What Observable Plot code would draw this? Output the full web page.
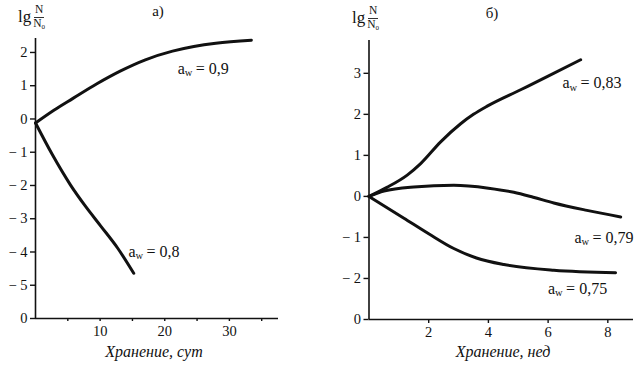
<!DOCTYPE html>
<html><head><meta charset="utf-8">
<script src="https://cdn.jsdelivr.net/npm/d3@7"></script>
<script src="https://cdn.jsdelivr.net/npm/@observablehq/plot@0.6"></script>
<style>
body{margin:0;background:#fff;}
#wrap{position:relative;width:643px;height:369px;overflow:hidden;font-family:"Liberation Serif","Times New Roman",Times,"DejaVu Serif",serif;color:#111;}
#wrap svg, #wrap svg text{font-family:"Liberation Serif","Times New Roman",Times,"DejaVu Serif",serif !important;}
.panel{position:absolute;top:0;}
.ylab{position:absolute;display:flex;align-items:center;font-size:17px;}
.frac{display:inline-flex;flex-direction:column;align-items:center;font-size:11.5px;line-height:1;margin-left:2px;}
.frac .num{border-bottom:0.8px solid #333;padding:0 1px 1px;}
.frac sub{font-size:7px;vertical-align:baseline;position:relative;top:2px;}
.xt{position:absolute;font-style:italic;font-size:16px;transform:translateX(-50%);white-space:nowrap;}
.pt{position:absolute;font-size:15px;transform:translateX(-50%);}
</style></head><body>
<div id="wrap"></div>
<script>
// ---- Panel а): storage in days ----
const daysA09 = [0, 2.9, 5.8, 9.5, 13.1, 17, 21.2, 24.5, 27.9, 33.4];
const lgA09   = [-0.12, 0.27, 0.62, 1.06, 1.44, 1.78, 2.04, 2.18, 2.28, 2.37];
const daysA08 = [0, 2.6, 5.4, 7.75, 10.1, 12.7, 15.2];
const lgA08   = [-0.12, -1.07, -1.98, -2.63, -3.22, -3.88, -4.64];
const ticksYA = [-6, -5, -4, -3, -2, -1, 0, 1, 2];
const ticksXA = [5, 10, 15, 20, 25, 30, 35];
const labelsA = [{x: 22, y: 1.52, v: "0,9"}, {x: 14.4, y: -4.0, v: "0,8"}];

// ---- Panel б): storage in weeks ----
const weeksB083 = [0, 0.6, 1.28, 1.73, 2.4, 3.07, 3.5, 3.96, 5.08, 6.0, 7.09];
const lgB083    = [0, 0.22, 0.52, 0.8, 1.33, 1.77, 2.0, 2.2, 2.6, 2.93, 3.33];
const weeksB079 = [0, 0.5, 1.5, 2.84, 4.0, 4.85, 5.5, 6.19, 7.3, 8.43];
const lgB079    = [0, 0.13, 0.23, 0.27, 0.2, 0.1, -0.02, -0.16, -0.34, -0.5];
const weeksB075 = [0, 1.17, 2.0, 2.84, 3.6, 4.52, 6.19, 8.26];
const lgB075    = [0, -0.53, -0.91, -1.27, -1.5, -1.66, -1.8, -1.86];
const ticksYB = [-3, -2, -1, 0, 1, 2, 3];
const ticksXB = [2, 4, 6, 8];
const labelsB = [{x: 6.48, y: 2.76, v: "0,83"}, {x: 6.88, y: -1.0, v: "0,79"}, {x: 6.0, y: -2.25, v: "0,75"}];

const zip = (xs, ys) => xs.map((x, i) => ({x, y: ys[i]}));
const font = '"Liberation Serif","Times New Roman",Times,"DejaVu Serif",serif';
const fmtY = bottom => d => d === bottom ? "0" : d < 0 ? "\u2212 " + (-d) : String(d);

function awLabel(data) {
  return [
    Plot.text(data, {x: "x", y: "y", text: () => "a", textAnchor: "start", fontSize: 16, fill: "#111"}),
    Plot.text(data, {x: "x", y: "y", text: () => "w", textAnchor: "start", dx: 7, dy: 4, fontSize: 10.5, fill: "#111"}),
    Plot.text(data, {x: "x", y: "y", text: d => "= " + d.v, textAnchor: "start", dx: 18, fontSize: 16, fill: "#111"})
  ];
}

const common = {
  style: {fontFamily: font, fontSize: "14.5px", color: "#111", background: "transparent", overflow: "visible"},
  height: 369
};

const left = Plot.plot({
  ...common,
  width: 320,
  marginLeft: 35, marginRight: 42, marginTop: 38, marginBottom: 51,
  x: {domain: [0, 37.6], label: null},
  y: {domain: [-6, 2.42], label: null},
  marks: [
    Plot.axisY({ticks: ticksYA, tickFormat: fmtY(-6), tickSize: 5, tickPadding: 3, strokeWidth: 1.4, label: null}),
    Plot.axisX({ticks: ticksXA, tickFormat: d => d % 10 === 0 ? d : "", tickSize: 3, tickPadding: 4, strokeWidth: 1.4, label: null}),
    Plot.ruleX([0], {strokeWidth: 1.6, stroke: "#111"}),
    Plot.ruleY([-6], {strokeWidth: 1.6, stroke: "#111"}),
    Plot.line(zip(daysA09, lgA09), {x: "x", y: "y", curve: "monotone-x", strokeWidth: 3, stroke: "#111"}),
    Plot.line(zip(daysA08, lgA08), {x: "x", y: "y", curve: "monotone-x", strokeWidth: 3, stroke: "#111"}),
    ...awLabel(labelsA)
  ]
});

const right = Plot.plot({
  ...common,
  width: 323,
  marginLeft: 48.5, marginRight: 10, marginTop: 40, marginBottom: 50,
  x: {domain: [0, 8.86], label: null},
  y: {domain: [-3, 3.8], label: null},
  marks: [
    Plot.axisY({ticks: ticksYB, tickFormat: fmtY(-3), tickSize: 5, tickPadding: 3, strokeWidth: 1.4, label: null}),
    Plot.axisX({ticks: ticksXB, tickSize: 4, tickPadding: 3, strokeWidth: 1.4, label: null}),
    Plot.ruleX([0], {strokeWidth: 1.6, stroke: "#111"}),
    Plot.ruleY([-3], {strokeWidth: 1.6, stroke: "#111"}),
    Plot.line(zip(weeksB083, lgB083), {x: "x", y: "y", curve: "monotone-x", strokeWidth: 3, stroke: "#111"}),
    Plot.line(zip(weeksB079, lgB079), {x: "x", y: "y", curve: "monotone-x", strokeWidth: 3, stroke: "#111"}),
    Plot.line(zip(weeksB075, lgB075), {x: "x", y: "y", curve: "monotone-x", strokeWidth: 3, stroke: "#111"}),
    ...awLabel(labelsB)
  ]
});

const wrap = document.getElementById("wrap");
left.classList.add("panel"); left.style.left = "0px";
right.classList.add("panel"); right.style.left = "320px";
wrap.append(left, right);

function addHTML(html) { const t = document.createElement("template"); t.innerHTML = html.trim(); wrap.append(t.content.firstChild); }
const ylabHTML = '<span>lg</span><span class="frac"><span class="num">N</span><span>N<sub>0</sub></span></span>';
addHTML(`<div class="ylab" style="left:18px;top:4px">${ylabHTML}</div>`);
addHTML(`<div class="ylab" style="left:352px;top:5px">${ylabHTML}</div>`);
addHTML(`<div class="pt" style="left:158px;top:3px">а)</div>`);
addHTML(`<div class="pt" style="left:492px;top:5px">б)</div>`);
addHTML(`<div class="xt" style="left:154px;top:343px">Хранение, сут</div>`);
addHTML(`<div class="xt" style="left:503px;top:343px">Хранение, нед</div>`);
</script>
</body></html>
